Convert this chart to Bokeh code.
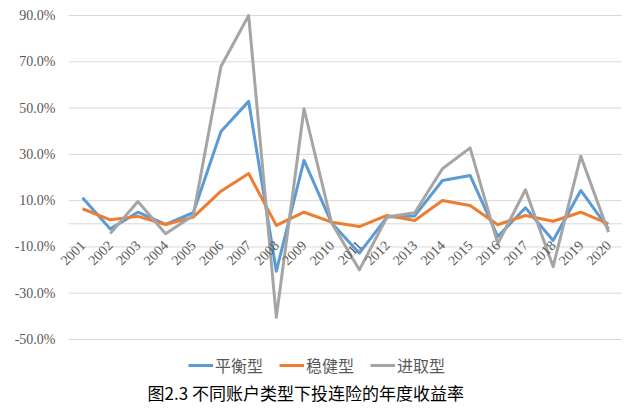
import math
from bokeh.plotting import figure
from bokeh.models import (Range1d, FixedTicker, PrintfTickFormatter,
                          Legend, LegendItem, Label, ColumnDataSource)
from bokeh.embed import file_html
from bokeh.resources import INLINE

years = list(range(2001, 2021))
balanced = [11.2, -2.2, 5.0, -0.3, 4.8, 39.9, 52.9, -20.5, 27.4, 0.3,
            -12.7, 2.9, 3.4, 18.7, 20.9, -5.5, 6.9, -7.2, 14.4, -2.2]
steady = [6.5, 1.7, 3.2, -0.3, 2.9, 14.1, 21.7, -0.7, 5.0, 0.7,
          -1.2, 3.6, 1.4, 10.1, 7.9, -0.4, 3.6, 1.1, 5.0, 0.0]
aggressive = [float("nan"), -4.2, 9.6, -4.3, 3.6, 68.0, 90.0, -40.4, 49.7, 0.3,
              -19.9, 2.9, 4.8, 23.8, 32.8, -8.6, 14.7, -18.5, 29.2, -3.6]
y_ticks = [-50, -30, -10, 10, 30, 50, 70, 90]
grid_ticks = [-50, -30, -10, 0, 10, 30, 50, 70, 90]
series_names = ["平衡型", "稳健型", "进取型"]
title_text = "图2.3 不同账户类型下投连险的年度收益率"

colors = ["#5B9BD5", "#ED7D31", "#A5A5A5"]

# frame spans down to the bottom of the picture so legend/caption sit inside it
p = figure(width=627, height=419,
           x_range=Range1d(1999.95, 2020.47), y_range=Range1d(-84.57, 91.3),
           output_backend="svg", toolbar_location=None,
           min_border_left=53, min_border_right=6, min_border_top=12,
           min_border_bottom=0)
p.outline_line_color = None
p.background_fill_color = "white"
p.border_fill_color = "white"
p.xgrid.grid_line_color = None
p.ygrid.grid_line_color = None

# horizontal gridlines spanning the category band (first year - 0.5 .. last year + 0.5)
grid_src = ColumnDataSource(dict(
    x0=[years[0] - 0.5] * len(grid_ticks),
    x1=[years[-1] + 0.5] * len(grid_ticks),
    y=grid_ticks))
p.segment(x0="x0", x1="x1", y0="y", y1="y", source=grid_src,
          line_color="#D9D9D9", line_width=1, level="underlay")

renderers = []
for vals, c in zip([balanced, steady, aggressive], colors):
    r = p.line(x=years, y=vals, line_color=c, line_width=3, line_join="round")
    renderers.append(r)

# y axis
yax = p.yaxis[0]
yax.ticker = FixedTicker(ticks=y_ticks)
yax.formatter = PrintfTickFormatter(format="%.1f%%")
yax.axis_line_color = None
yax.major_tick_line_color = None
yax.minor_tick_line_color = None
yax.major_tick_out = 0
yax.major_tick_in = 0
yax.major_label_standoff = -2
yax.major_label_text_font = "Liberation Serif"
yax.major_label_text_font_size = "14px"
yax.major_label_text_color = "#595959"

# x axis crossing at y = 0
xax = p.xaxis[0]
xax.fixed_location = 0
xax.ticker = FixedTicker(ticks=years)
xax.formatter = PrintfTickFormatter(format="%d")
xax.axis_line_color = None
xax.major_tick_line_color = None
xax.minor_tick_line_color = None
xax.major_tick_out = 0
xax.major_tick_in = 0
xax.major_label_orientation = math.pi / 4
xax.major_label_standoff = 19
xax.major_label_text_font = "Liberation Serif"
xax.major_label_text_font_size = "14px"
xax.major_label_text_color = "#595959"

legend = Legend(items=[LegendItem(label=n, renderers=[r]) for n, r in zip(series_names, renderers)],
                orientation="horizontal", location=(135, 42),
                glyph_width=25, glyph_height=20, label_height=20,
                label_standoff=2, spacing=16, padding=0, margin=0,
                border_line_color=None, background_fill_alpha=0,
                label_text_font="Noto Sans CJK SC", label_text_font_size="16px",
                label_text_color="#595959")
p.add_layout(legend, "center")

caption = Label(x=94, y=27, x_units="screen", y_units="screen", text=title_text,
                text_font="Noto Sans CJK SC", text_font_size="17px",
                text_color="#000000", text_align="left", text_baseline="middle")
p.add_layout(caption)

open("out.html", "w").write(file_html(p, INLINE))
